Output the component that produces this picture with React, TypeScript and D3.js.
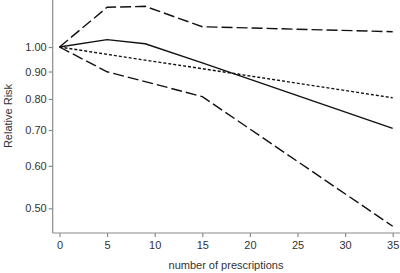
import React, { useEffect, useRef } from "react";
import * as d3 from "d3";

const prescriptions = [0, 5, 9, 15, 35];
const rrEstimate = [1.0, 1.032, 1.014, 0.934, 0.705];
const rrUpper = [1.0, 1.186, 1.191, 1.091, 1.068];
const rrLower = [1.0, 0.899, 0.862, 0.808, 0.463];
const rrLogLinear = [1.0, 0.969, 0.945, 0.911, 0.804];

const xTicks = [0, 5, 10, 15, 20, 25, 30, 35];
const yTicks = [0.5, 0.6, 0.7, 0.8, 0.9, 1.0];

const W = 400;
const H = 273;

export default function App() {
  const ref = useRef<SVGSVGElement>(null);

  useEffect(() => {
    const svg = d3.select(ref.current!);
    svg.selectAll("*").remove();

    const x = d3.scaleLinear().domain([0, 35]).range([59.5, 392.7]);
    const y = d3.scaleLog().domain([0.4497, 1.2238]).range([233, 0]);

    const axisColor = "#8a8a8a";
    const textColor = "#333";
    const font = "Liberation Sans, Arial, sans-serif";

    const gy = svg.append("g").attr("transform", "translate(52.7,0)");
    gy.call(
      d3.axisLeft(y).tickValues(yTicks).tickFormat(d3.format(".2f") as any).tickSize(4).tickPadding(2).tickSizeOuter(0)
    );
    const gx = svg.append("g").attr("transform", "translate(0,233)");
    gx.call(
      d3.axisBottom(x).tickValues(xTicks).tickFormat(d3.format("d") as any).tickSize(4).tickPadding(4).tickSizeOuter(0)
    );
    gy.select(".domain").remove();
    gx.select(".domain").remove();
    svg.append("line").attr("x1", 52.7).attr("x2", 52.7).attr("y1", 0).attr("y2", 233)
      .attr("stroke", axisColor).attr("stroke-width", 1.2);
    svg.append("line").attr("x1", 52.7).attr("x2", 400).attr("y1", 233).attr("y2", 233)
      .attr("stroke", axisColor).attr("stroke-width", 1.2);

    [gx, gy].forEach((g) => {
      g.selectAll("line").attr("stroke", axisColor).attr("stroke-width", 1.2);
      g.selectAll("text").attr("fill", textColor).attr("font-family", font).attr("font-size", 11);
    });

    const line = d3.line<number>()
      .x((_, i) => x(prescriptions[i]))
      .y((d) => y(d));

    const series: [number[], string][] = [
      [rrUpper, "11,4"],
      [rrLower, "11,4"],
      [rrEstimate, ""],
      [rrLogLinear, "3,2"],
    ];
    series.forEach(([vals, dash]) => {
      svg.append("path")
        .attr("d", line(vals)!)
        .attr("fill", "none")
        .attr("stroke", "#111")
        .attr("stroke-width", 1.4)
        .attr("stroke-dasharray", dash || null);
    });

    svg.append("text")
      .attr("transform", "translate(12,116) rotate(-90)")
      .attr("text-anchor", "middle")
      .attr("font-family", font)
      .attr("font-size", 11)
      .attr("fill", textColor)
      .text("Relative Risk");

    svg.append("text")
      .attr("x", 226)
      .attr("y", 269)
      .attr("text-anchor", "middle")
      .attr("font-family", font)
      .attr("font-size", 11)
      .attr("fill", textColor)
      .text("number of prescriptions");
  }, []);

  return (
    <svg
      ref={ref}
      width={W}
      height={H}
      style={{ position: "fixed", left: 0, top: 0, background: "#fff" }}
    />
  );
}
